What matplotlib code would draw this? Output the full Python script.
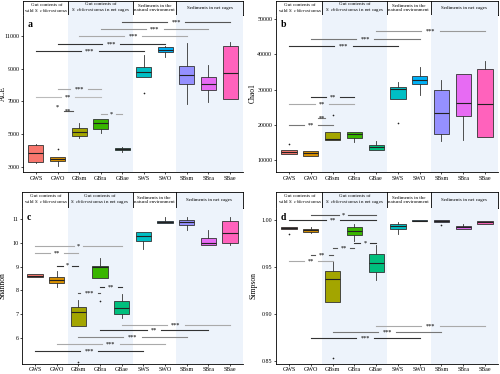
import matplotlib
matplotlib.use('Agg')
import matplotlib.pyplot as plt

plt.rcParams['font.family'] = ['Liberation Serif', 'DejaVu Serif']
plt.rcParams['mathtext.fontset'] = 'custom'
plt.rcParams['mathtext.it'] = 'Liberation Serif:italic'
plt.rcParams['mathtext.rm'] = 'Liberation Serif'

# groups and colours
groups = ['GWS', 'GWO', 'GBsm', 'GBra', 'GBae', 'SWS', 'SWO', 'SBsm', 'SBra', 'SBae']
colors = ['#F8766D', '#D89000', '#A3A500', '#39B600', '#00BF7D',
          '#00BFC4', '#00B0F6', '#9590FF', '#E76BF3', '#FF62BC']
headers = ['Gut contents of\nwild $\\it{S.\\ chlorostomus}$',
           'Gut contents of\n$\\it{S.\\ chlorostomus}$ in net cages',
           'Sediments in the\nnatural environment',
           'Sediments in net cages']

# ACE
ace_lo = [3280, 3080, 4760, 5100, 3950, 8470, 9680, 6820, 6980, 7160]
ace_q1 = [3290, 3380, 4900, 5350, 4030, 8470, 10010, 8070, 7680, 7160]
ace_med = [3830, 3480, 5140, 5700, 4090, 8800, 10150, 8640, 8070, 8740]
ace_q3 = [4350, 3590, 5360, 5910, 4150, 9100, 10310, 9180, 8470, 10390]
ace_hi = [4400, 3620, 5710, 5910, 4200, 9850, 10350, 10560, 9200, 10650]
ace_out = [[], [4090], [], [], [], [7530], [], [], [], []]

# Chao1
chao_lo = [11690, 11040, 15630, 15270, 12820, 27380, 28590, 15440, 15630, 16560]
chao_q1 = [11690, 11040, 15630, 16200, 12820, 27380, 31600, 17520, 22480, 16560]
chao_med = [12340, 11890, 16110, 17320, 13580, 30200, 32820, 23440, 26250, 25770]
chao_q3 = [12820, 12620, 18080, 18080, 14310, 30760, 33750, 30000, 34420, 35830]
chao_hi = [12820, 12620, 18080, 18080, 15440, 32060, 36280, 32820, 34420, 37970]
chao_out = [[14500], [], [22680], [], [], [20620], [], [], [], []]

# Shannon
shan_lo = [8.58, 8.14, 6.52, 8.51, 6.86, 9.74, 10.84, 10.53, 9.92, 9.92]
shan_q1 = [8.58, 8.30, 6.52, 8.51, 7.02, 10.06, 10.84, 10.77, 9.92, 9.98]
shan_med = [8.62, 8.44, 7.09, 8.98, 7.27, 10.29, 10.88, 10.86, 9.98, 10.43]
shan_q3 = [8.68, 8.58, 7.30, 9.05, 7.55, 10.45, 10.93, 10.98, 10.19, 10.93]
shan_hi = [8.68, 8.82, 7.61, 9.36, 7.85, 10.45, 11.09, 11.09, 10.56, 11.09]
shan_out = [[], [], [5.01], [7.55], [], [], [], [], [], []]

# Simpson
simp_lo = [0.9906, 0.9857, 0.9128, 0.9777, 0.9360, 0.9854, 0.9988, 0.9979, 0.9906, 0.9958]
simp_q1 = [0.9906, 0.9875, 0.9128, 0.9836, 0.9448, 0.9906, 0.9990, 0.9979, 0.9906, 0.9958]
simp_med = [0.9917, 0.9889, 0.9371, 0.9881, 0.9545, 0.9940, 0.9993, 0.9988, 0.9927, 0.9975]
simp_q3 = [0.9923, 0.9900, 0.9458, 0.9927, 0.9639, 0.9958, 0.9996, 0.9996, 0.9941, 0.9993]
simp_hi = [0.9923, 0.9927, 0.9558, 0.9961, 0.9732, 0.9975, 0.9998, 0.9996, 0.9958, 0.9993]
simp_out = [[0.9854], [], [0.8527], [], [], [], [], [0.9944], [], []]

# significance brackets: (from, to, height, label, colour)
ace_sig = [(5, 10, 11830, '***', '#555555'), (4, 9, 11420, '***', '#999999'),
           (3, 8, 10960, '***', '#aaaaaa'), (2, 7, 10500, '***', '#333333'),
           (1, 6, 10050, '***', '#333333'), (2, 4, 7730, '***', '#aaaaaa'),
           (1, 4, 7260, '**', '#bbbbbb'), (2.3, 2.7, 6410, '**', '#555555'),
           (4, 5, 6250, '*', '#aaaaaa')]
chao_sig = [(5, 10, 46620, '***', '#999999'), (2, 7, 44370, '***', '#777777'),
            (1, 6, 42400, '***', '#333333'), (2, 4, 27830, '**', '#333333'),
            (1, 4, 25970, '**', '#aaaaaa'), (2.35, 2.65, 22030, '**', '#777777'),
            (1, 3, 19940, '**', '#777777')]
shan_sig = [(1, 5, 9.88, '*', '#aaaaaa'), (1, 3, 9.56, '**', '#aaaaaa'),
            (2, 3, 9.05, '*', '#333333'), (4, 5, 8.16, '**', '#333333'),
            (3, 4, 7.89, '***', '#555555'), (5, 10, 6.56, '***', '#aaaaaa'),
            (4, 9, 6.34, '**', '#333333'), (3, 8, 6.04, '***', '#888888'),
            (2, 7, 5.74, '***', '#aaaaaa'), (1, 6, 5.45, '***', '#333333')]
simp_sig = [(2, 5, 1.0055, '*', '#555555'), (1, 5, 1.0003, '**', '#333333'),
            (4, 5, 0.975, '*', '#333333'), (3, 4, 0.9698, '**', '#555555'),
            (2, 3, 0.9631, '**', '#555555'), (1, 3, 0.9563, '**', '#aaaaaa'),
            (5, 10, 0.8875, '***', '#aaaaaa'), (3, 8, 0.8805, '***', '#777777'),
            (2, 7, 0.8743, '***', '#333333')]

shade = '#edf3fb'
fig = plt.figure(figsize=(5.0, 3.74), dpi=100)


def panel(box, hbox, lo, q1, med, q3, hi, out, sig, ylim, yticks, yticklabels,
          ylabel, letter, lx, extra=None):
    hdr = fig.add_axes(hbox)
    ax = fig.add_axes(box)
    for a in (hdr, ax):
        a.set_xlim(0.4, 10.6)
        a.axvspan(2.5, 5.5, color=shade, lw=0, zorder=0)
        a.axvspan(7.5, 10.6, color=shade, lw=0, zorder=0)
    # header
    hdr.set_ylim(0, 1)
    hdr.set_xticks([])
    hdr.set_yticks([])
    for s in hdr.spines.values():
        s.set_linewidth(0.6)
    for xb in (2.5, 5.5, 7.5):
        hdr.axvline(xb, color='black', lw=0.6)
    for xc, txt in zip([1.5, 4.0, 6.5, 9.05], headers):
        hdr.text(xc, 0.5, txt, ha='center', va='center', fontsize=3.6,
                 linespacing=1.0)
    # boxes
    stats = []
    for i in range(len(groups)):
        stats.append(dict(med=med[i], q1=q1[i], q3=q3[i], whislo=lo[i],
                          whishi=hi[i], fliers=out[i]))
    bp = ax.bxp(stats, positions=range(1, 11), widths=0.7, patch_artist=True,
                showcaps=False,
                boxprops=dict(edgecolor='#333333', linewidth=0.6),
                medianprops=dict(color='#222222', linewidth=0.8),
                whiskerprops=dict(color='#333333', linewidth=0.6),
                flierprops=dict(marker='o', markersize=1.2,
                                markerfacecolor='#222222',
                                markeredgecolor='none'))
    for patch, c in zip(bp['boxes'], colors):
        patch.set_facecolor(c)
    # significance lines
    for x1, x2, y, lab, c in sig:
        mid = (x1 + x2) / 2
        gap = 0.12 + 0.1 * len(lab)
        if x2 - x1 > 2 * gap:
            ax.plot([x1, mid - gap], [y, y], color=c, lw=0.8)
            ax.plot([mid + gap, x2], [y, y], color=c, lw=0.8)
        else:
            ax.plot([x1, x2], [y, y], color=c, lw=0.8)
        ax.text(mid, y, lab, ha='center', va='center', fontsize=4.5,
                color='#333333', fontweight='bold')
    if extra:
        for x, y, lab in extra:
            ax.text(x, y, lab, ha='center', va='center', fontsize=4.5,
                    color='#333333', fontweight='bold')
    ax.set_ylim(*ylim)
    ax.set_yticks(yticks)
    ax.set_yticklabels(yticklabels)
    ax.set_xticks(range(1, 11))
    ax.set_xticklabels(groups)
    ax.tick_params(labelsize=4.3, length=1.5, width=0.5, pad=1.2)
    ax.spines['top'].set_visible(False)
    ax.spines['right'].set_visible(False)
    ax.spines['left'].set_linewidth(0.6)
    ax.spines['bottom'].set_linewidth(0.6)
    ax.set_ylabel(ylabel, fontsize=5.5)
    ax.yaxis.set_label_coords(lx, 0.5)
    ax.text(0.02, 0.97, letter, transform=ax.transAxes, fontsize=7,
            fontweight='bold', ha='left', va='top')
    return ax


panel([0.046, 0.540, 0.440, 0.420], [0.046, 0.960, 0.440, 0.037],
      ace_lo, ace_q1, ace_med, ace_q3, ace_hi, ace_out, ace_sig,
      (2700, 12270), [3000, 5000, 7000, 9000, 11000],
      ['3000', '5000', '7000', '9000', '11000'], 'ACE', 'a', -0.075,
      extra=[(2, 6640, '*')])
panel([0.552, 0.540, 0.444, 0.420], [0.552, 0.960, 0.444, 0.037],
      chao_lo, chao_q1, chao_med, chao_q3, chao_hi, chao_out, chao_sig,
      (6620, 51130), [10000, 20000, 30000, 40000, 50000],
      ['10000', '20000', '30000', '40000', '50000'], 'Chao1', 'b', -0.085)
panel([0.044, 0.028, 0.442, 0.416], [0.044, 0.444, 0.442, 0.043],
      shan_lo, shan_q1, shan_med, shan_q3, shan_hi, shan_out, shan_sig,
      (4.93, 11.47), [6, 7, 8, 9, 10, 11],
      ['6', '7', '8', '9', '10', '11'], 'Shannon', 'c', -0.07)
panel([0.552, 0.028, 0.444, 0.416], [0.552, 0.444, 0.444, 0.043],
      simp_lo, simp_q1, simp_med, simp_q3, simp_hi, simp_out, simp_sig,
      (0.8472, 1.0128), [0.85, 0.90, 0.95, 1.00],
      ['0.85', '0.90', '0.95', '1.00'], 'Simpson', 'd', -0.085)

fig.savefig('out.png', dpi=100)
